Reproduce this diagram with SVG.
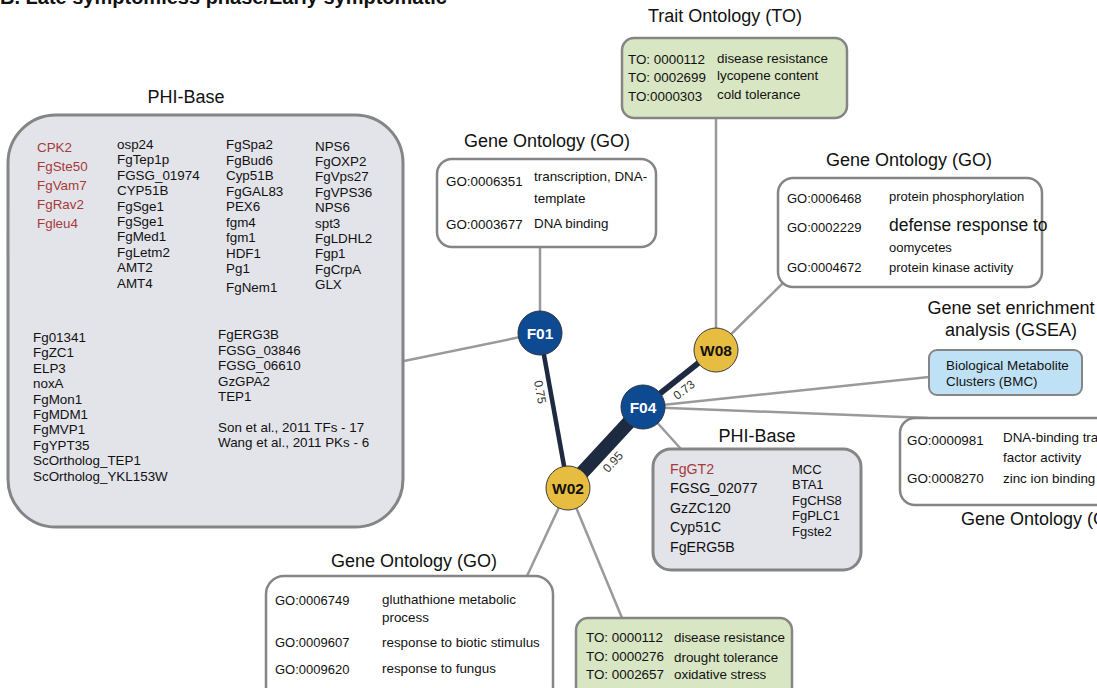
<svg xmlns="http://www.w3.org/2000/svg" width="1097" height="688" viewBox="0 0 1097 688">
<style>
.t{font-family:"Liberation Sans",Arial,sans-serif;fill:#111}
.head{font-size:18px}
.s13{font-size:13.4px}
.s12{font-size:13px}
.s14{font-size:14.2px}
.red{fill:#a63a3a}
.phi{fill:#e3e4ea;stroke:#858585;stroke-width:3}
.go{fill:#fff;stroke:#858585;stroke-width:2.5}
.to{fill:#d8e6c4;stroke:#858585;stroke-width:2.5}
.gsea{fill:#bfe1f6;stroke:#858585;stroke-width:2}
.conn{stroke:#9a9a9a;stroke-width:2.5;fill:none}
.sim{stroke:#1e2a3f;fill:none}
.elbl{font-family:"Liberation Sans",Arial,sans-serif;font-size:12px;fill:#333;text-anchor:middle;dominant-baseline:central}
.nF{fill:#0d4a91;stroke:#2a3340;stroke-width:1}
.nW{fill:#e6bd40;stroke:#3a3a3a;stroke-width:1}
.nt{font-family:"Liberation Sans",Arial,sans-serif;font-size:15.5px;font-weight:bold;text-anchor:middle}
.mid{text-anchor:middle}
</style>

<text class="t" x="0" y="4" style="font-size:20px;font-weight:bold">B. Late symptomless phase/Early symptomatic</text>

<g id="connectors">
  <line class="conn" x1="540" y1="333" x2="404" y2="361"/>
  <line class="conn" x1="540" y1="333" x2="540" y2="247"/>
  <line class="conn" x1="716" y1="349" x2="716" y2="118"/>
  <line class="conn" x1="716" y1="349" x2="784" y2="282"/>
  <line class="conn" x1="643" y1="407" x2="929" y2="377"/>
  <line class="conn" x1="643" y1="407" x2="928" y2="418"/>
  <line class="conn" x1="643" y1="407" x2="681" y2="449"/>
  <line class="conn" x1="568" y1="488" x2="527" y2="576"/>
  <line class="conn" x1="568" y1="488" x2="622" y2="618"/>
  <line class="sim" x1="540" y1="333" x2="568" y2="488" stroke-width="4.5"/>
  <line class="sim" x1="643" y1="407" x2="568" y2="488" stroke-width="14"/>
  <line class="sim" x1="643" y1="407" x2="716" y2="349" stroke-width="6"/>
  <text class="elbl" transform="translate(540,392) rotate(80)">0.75</text>
  <text class="elbl" transform="translate(613,462) rotate(-47)">0.95</text>
  <text class="elbl" transform="translate(684,390) rotate(-38)">0.73</text>
</g>

<g id="phibase-large">
  <text class="t head mid" x="186" y="103">PHI-Base</text>
  <rect class="phi" x="8" y="115" width="395" height="412" rx="48"/>
  <g class="t s13 red">
    <text x="37" y="151.5">CPK2</text>
    <text x="37" y="170.7">FgSte50</text>
    <text x="37" y="189.9">FgVam7</text>
    <text x="37" y="209.1">FgRav2</text>
    <text x="37" y="228.3">Fgleu4</text>
  </g>
  <g class="t s13">
    <text x="117" y="149">osp24</text>
    <text x="117" y="164.4">FgTep1p</text>
    <text x="117" y="179.8">FGSG_01974</text>
    <text x="117" y="195.2">CYP51B</text>
    <text x="117" y="210.6">FgSge1</text>
    <text x="117" y="226">FgSge1</text>
    <text x="117" y="241.4">FgMed1</text>
    <text x="117" y="256.8">FgLetm2</text>
    <text x="117" y="272.2">AMT2</text>
    <text x="117" y="287.6">AMT4</text>
    <text x="226" y="149">FgSpa2</text>
    <text x="226" y="164.5">FgBud6</text>
    <text x="226" y="180">Cyp51B</text>
    <text x="226" y="195.5">FgGAL83</text>
    <text x="226" y="211">PEX6</text>
    <text x="226" y="226.5">fgm4</text>
    <text x="226" y="242">fgm1</text>
    <text x="226" y="257.5">HDF1</text>
    <text x="226" y="273">Pg1</text>
    <text x="226" y="291.5">FgNem1</text>
    <text x="315" y="150.5">NPS6</text>
    <text x="315" y="165.9">FgOXP2</text>
    <text x="315" y="181.3">FgVps27</text>
    <text x="315" y="196.7">FgVPS36</text>
    <text x="315" y="212.1">NPS6</text>
    <text x="315" y="227.5">spt3</text>
    <text x="315" y="242.9">FgLDHL2</text>
    <text x="315" y="258.3">Fgp1</text>
    <text x="315" y="273.7">FgCrpA</text>
    <text x="315" y="289.1">GLX</text>
    <text x="33" y="342">Fg01341</text>
    <text x="33" y="357.4">FgZC1</text>
    <text x="33" y="372.8">ELP3</text>
    <text x="33" y="388.2">noxA</text>
    <text x="33" y="403.6">FgMon1</text>
    <text x="33" y="419">FgMDM1</text>
    <text x="33" y="434.4">FgMVP1</text>
    <text x="33" y="449.8">FgYPT35</text>
    <text x="33" y="465.2">ScOrtholog_TEP1</text>
    <text x="33" y="480.6">ScOrtholog_YKL153W</text>
    <text x="218" y="339">FgERG3B</text>
    <text x="218" y="354.5">FGSG_03846</text>
    <text x="218" y="370">FGSG_06610</text>
    <text x="218" y="385.5">GzGPA2</text>
    <text x="218" y="401">TEP1</text>
    <text x="218" y="431.5">Son et al., 2011 TFs  - 17</text>
    <text x="218" y="447">Wang et al., 2011 PKs - 6</text>
  </g>
</g>

<g id="go-top">
  <text class="t head mid" x="547" y="147">Gene Ontology (GO)</text>
  <rect class="go" x="437" y="159" width="219" height="88" rx="15"/>
  <g class="t s13">
    <text x="446" y="185.5">GO:0006351</text>
    <text x="534" y="181">transcription, DNA-</text>
    <text x="534" y="203">template</text>
    <text x="446" y="229">GO:0003677</text>
    <text x="534" y="228">DNA binding</text>
  </g>
</g>

<g id="to-top">
  <text class="t head mid" x="725" y="22">Trait Ontology (TO)</text>
  <rect class="to" x="622" y="38" width="225" height="80" rx="12"/>
  <g class="t s13">
    <text x="628" y="63.5">TO: 0000112</text>
    <text x="628" y="81.5">TO: 0002699</text>
    <text x="628" y="100.5">TO:0000303</text>
    <text x="717" y="62.5">disease resistance</text>
    <text x="717" y="80">lycopene content</text>
    <text x="717" y="98.5">cold tolerance</text>
  </g>
</g>

<g id="go-right-top">
  <text class="t head mid" x="909" y="166">Gene Ontology (GO)</text>
  <rect class="go" x="778" y="178" width="264" height="109" rx="15"/>
  <g class="t" style="font-size:13px">
    <text x="787" y="203">GO:0006468</text>
    <text x="787" y="231.5">GO:0002229</text>
    <text x="787" y="271.5">GO:0004672</text>
    <text x="889" y="200.5">protein phosphorylation</text>
    <text x="889" y="230.5" style="font-size:17.5px">defense response to</text>
    <text x="889" y="252">oomycetes</text>
    <text x="889" y="272">protein kinase activity</text>
  </g>
</g>

<g id="gsea">
  <text class="t head mid" x="1011" y="314">Gene set enrichment</text>
  <text class="t head mid" x="1011" y="336">analysis (GSEA)</text>
  <rect class="gsea" x="929" y="350" width="153" height="45" rx="8"/>
  <g class="t s13">
    <text x="946" y="370">Biological Metabolite</text>
    <text x="946" y="386">Clusters (BMC)</text>
  </g>
</g>

<g id="go-right">
  <rect class="go" x="900" y="418" width="260" height="87" rx="15"/>
  <g class="t s13">
    <text x="907" y="445">GO:0000981</text>
    <text x="907" y="482.5">GO:0008270</text>
    <text x="1003" y="442">DNA-binding transcription</text>
    <text x="1003" y="462">factor activity</text>
    <text x="1003" y="482.5">zinc ion binding</text>
  </g>
  <text class="t head" x="961" y="525">Gene Ontology (GO)</text>
</g>

<g id="phibase-small">
  <text class="t head mid" x="757" y="441.5">PHI-Base</text>
  <rect class="phi" x="653" y="449" width="208" height="121" rx="18"/>
  <g class="t s14">
    <text class="red" x="670" y="473.5">FgGT2</text>
    <text x="670" y="493">FGSG_02077</text>
    <text x="670" y="512.5">GzZC120</text>
    <text x="670" y="532">Cyp51C</text>
    <text x="670" y="551.5">FgERG5B</text>
  </g>
  <g class="t" style="font-size:13px">
    <text x="792" y="473.5">MCC</text>
    <text x="792" y="489">BTA1</text>
    <text x="792" y="504.5">FgCHS8</text>
    <text x="792" y="520">FgPLC1</text>
    <text x="792" y="535.5">Fgste2</text>
  </g>
</g>

<g id="go-bottom">
  <text class="t head mid" x="414" y="567">Gene Ontology (GO)</text>
  <rect class="go" x="266" y="576" width="287" height="130" rx="18"/>
  <g class="t s12">
    <text x="275" y="604.5">GO:0006749</text>
    <text x="275" y="647">GO:0009607</text>
    <text x="275" y="673.5">GO:0009620</text>
  </g>
  <g class="t s13">
    <text x="382" y="604">gluthathione metabolic</text>
    <text x="382" y="622">process</text>
    <text x="382" y="646.5">response to biotic stimulus</text>
    <text x="382" y="673">response to fungus</text>
  </g>
</g>

<g id="to-bottom">
  <rect class="to" x="576" y="618" width="216" height="90" rx="12"/>
  <g class="t s13">
    <text x="586" y="642">TO: 0000112</text>
    <text x="586" y="661">TO: 0000276</text>
    <text x="586" y="679">TO: 0002657</text>
    <text x="674" y="642">disease resistance</text>
    <text x="674" y="661.5">drought tolerance</text>
    <text x="674" y="679">oxidative stress</text>
  </g>
</g>

<g id="node-F01">
  <circle class="nF" cx="540" cy="333" r="22"/>
  <text class="nt" x="540" y="338.5" fill="#fff">F01</text>
</g>
<g id="node-W08">
  <circle class="nW" cx="716" cy="350" r="22"/>
  <text class="nt" x="716" y="355.5" fill="#111">W08</text>
</g>
<g id="node-F04">
  <circle class="nF" cx="643" cy="407" r="22"/>
  <text class="nt" x="643" y="412.5" fill="#fff">F04</text>
</g>
<g id="node-W02">
  <circle class="nW" cx="568" cy="488" r="22"/>
  <text class="nt" x="568" y="493.5" fill="#111">W02</text>
</g>
</svg>
